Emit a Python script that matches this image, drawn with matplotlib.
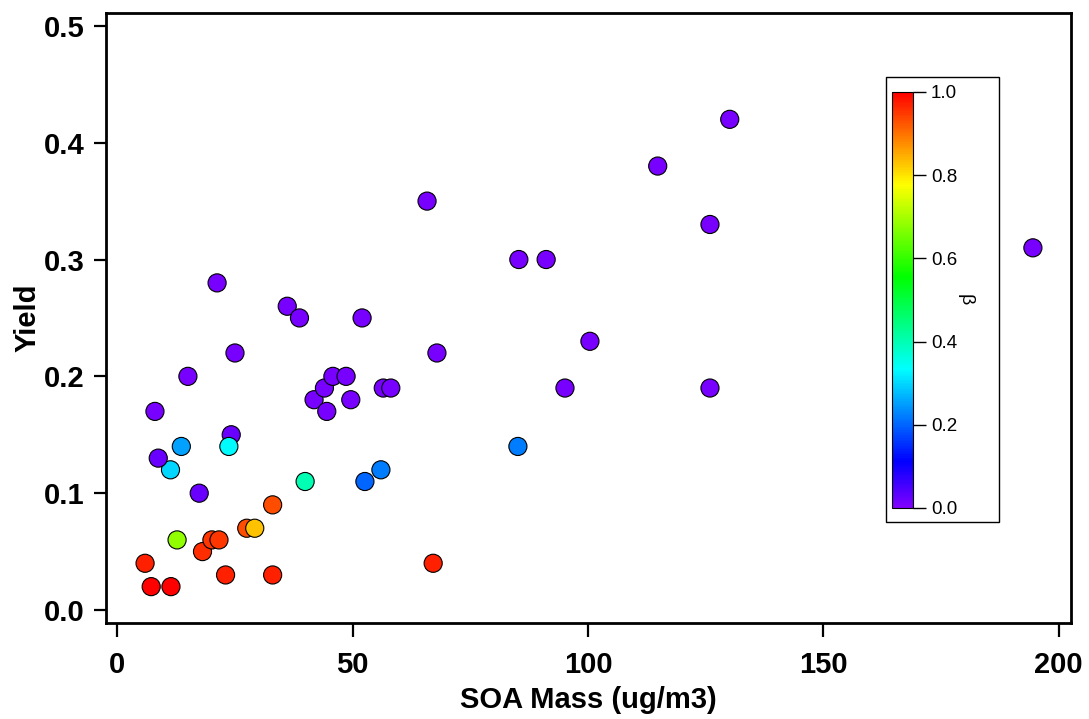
import matplotlib
matplotlib.use("Agg")
import matplotlib.pyplot as plt
import numpy as np
from matplotlib.colors import LinearSegmentedColormap, Normalize
from matplotlib.patches import Rectangle
import colorsys

# SOA mass (ug/m3), yield, and beta for each experiment
soa_mass = [5.9, 7.2, 11.4, 12.7, 18.1, 20.1, 21.6, 23.0, 27.5, 29.2,
            33.0, 33.0, 67.1, 11.3, 8.7, 13.6, 17.4, 24.2, 23.7, 8.0,
            15.0, 21.2, 25.0, 36.1, 38.7, 39.9, 41.8, 44.0, 44.5, 45.8,
            48.6, 49.6, 52.0, 52.6, 56.0, 56.5, 58.1, 65.8, 67.9, 85.1,
            85.3, 91.1, 95.1, 100.4, 114.8, 125.9, 125.9, 130.1, 194.5]
yield_vals = [0.04, 0.02, 0.02, 0.06, 0.05, 0.06, 0.06, 0.03, 0.07, 0.07,
              0.09, 0.03, 0.04, 0.12, 0.13, 0.14, 0.10, 0.15, 0.14, 0.17,
              0.20, 0.28, 0.22, 0.26, 0.25, 0.11, 0.18, 0.19, 0.17, 0.20,
              0.20, 0.18, 0.25, 0.11, 0.12, 0.19, 0.19, 0.35, 0.22, 0.14,
              0.30, 0.30, 0.19, 0.23, 0.38, 0.33, 0.19, 0.42, 0.31]
beta = [0.97, 1.00, 1.00, 0.68, 0.96, 0.95, 0.95, 0.97, 0.93, 0.83,
        0.93, 0.97, 0.97, 0.30, 0.02, 0.25, 0.02, 0.02, 0.33, 0.01,
        0.01, 0.01, 0.01, 0.01, 0.01, 0.40, 0.01, 0.01, 0.01, 0.01,
        0.01, 0.01, 0.01, 0.20, 0.22, 0.01, 0.01, 0.01, 0.01, 0.22,
        0.01, 0.01, 0.01, 0.01, 0.01, 0.01, 0.01, 0.01, 0.01]

x_ticks = [0, 50, 100, 150, 200]
y_ticks = [0.0, 0.1, 0.2, 0.3, 0.4, 0.5]
cbar_ticks = [0.0, 0.2, 0.4, 0.6, 0.8, 1.0]

# Rainbow running from violet (0) to red (1) along the hue circle
hues = np.linspace(270, 0, 256) / 360.0
rainbow = LinearSegmentedColormap.from_list(
    "violet_red", [colorsys.hsv_to_rgb(h, 1, 1) for h in hues])

font = "Liberation Sans"
plt.rcParams["font.family"] = [font, "DejaVu Sans"]

fig = plt.figure(figsize=(10.89, 7.19), dpi=100)
ax = fig.add_axes([0.0969, 0.1342, 0.8866, 0.8477])

norm = Normalize(0, 1)
ax.scatter(soa_mass, yield_vals, c=beta, cmap=rainbow, norm=norm, s=170,
           edgecolors="black", linewidths=0.8, zorder=3)

ax.set_xlim(-2.5, 202.6)
ax.set_ylim(-0.0107, 0.511)
ax.set_xticks(x_ticks)
ax.set_xticklabels([f"{v:d}" for v in x_ticks])
ax.set_yticks(y_ticks)
ax.set_yticklabels([f"{v:.1f}" for v in y_ticks])
for s in ax.spines.values():
    s.set_linewidth(2.0)
ax.tick_params(axis="x", direction="out", length=10, width=1.6,
               labelsize=21, pad=10.5)
ax.tick_params(axis="y", direction="out", length=8.6, width=1.6,
               labelsize=21, pad=6.5)
for lbl in ax.get_xticklabels() + ax.get_yticklabels():
    lbl.set_fontweight("bold")
ax.set_xlabel("SOA Mass (ug/m3)", fontsize=21, fontweight="bold", labelpad=5)
ax.set_ylabel("Yield", fontsize=21, fontweight="bold", labelpad=2)

# Colour scale inset with its own framed box
fig.patches.append(Rectangle((0.8136, 0.274), 0.1038, 0.619,
                             transform=fig.transFigure, facecolor="white",
                             edgecolor="black", linewidth=1.0, zorder=5))
cax = fig.add_axes([0.819, 0.2935, 0.0193, 0.5786], zorder=6)
sm = plt.cm.ScalarMappable(norm=norm, cmap=rainbow)
cb = fig.colorbar(sm, cax=cax, ticks=cbar_ticks)
cb.outline.set_linewidth(0.8)
cb.ax.tick_params(direction="out", length=9, width=1.0, labelsize=13.5, pad=4)
cb.ax.set_yticklabels([f"{v:.1f}" for v in cbar_ticks])
cb.set_label("β", rotation=270, fontsize=14, labelpad=12)

fig.savefig("out.png", dpi=100)
